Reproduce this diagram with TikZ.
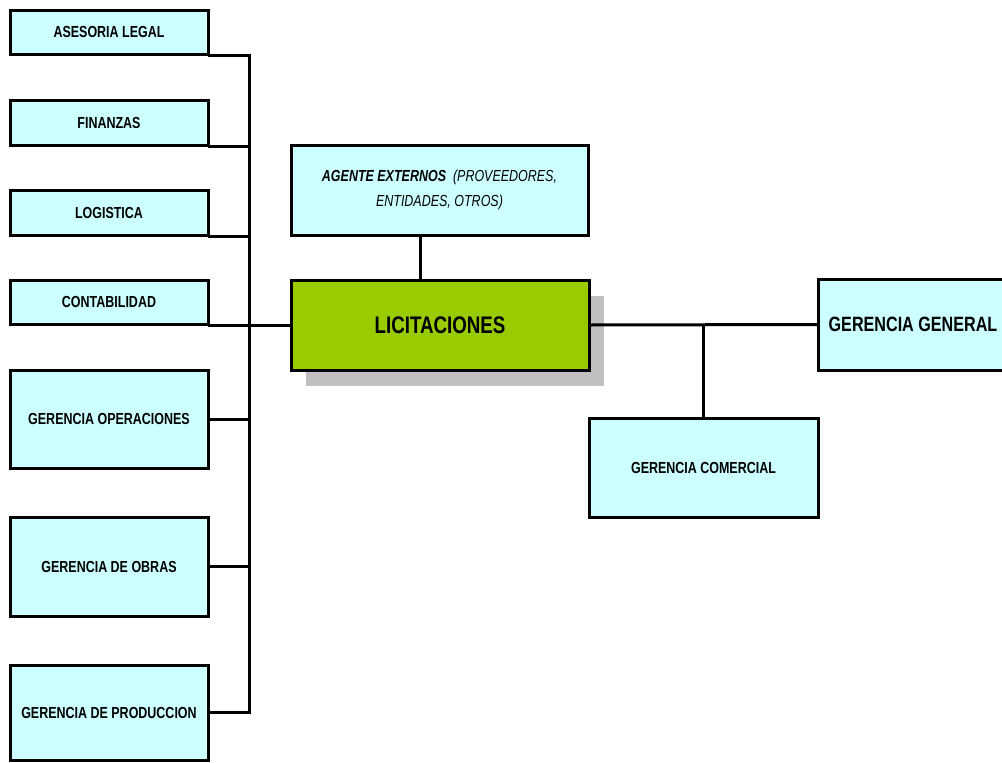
\documentclass[tikz,border=0pt]{standalone}
\usepackage{fontspec}
\setmainfont{Liberation Sans}[FakeStretch=0.78]
\usetikzlibrary{shadows}
\definecolor{boxcyan}{HTML}{CCFFFF}
\definecolor{boxgreen}{HTML}{99CC00}
\definecolor{shadowgray}{HTML}{C0C0C0}
\tikzset{
  unit/.style={draw=black, line width=3pt, fill=boxcyan, inner sep=0pt,
    align=center, font=\fontsize{16}{19}\selectfont\bfseries},
  leftunit/.style={unit, minimum width=198pt},
  wire/.style={line width=3pt, line cap=rect},
}
\begin{document}
\begin{tikzpicture}[x=1pt, y=-1pt]
  \useasboundingbox (0,0) rectangle (1002,763);
  \clip (0,0) rectangle (1002,763);

  % departments on the left
  \node[leftunit, minimum height=44pt] (asesoria) at (109,32) {ASESORIA LEGAL};
  \node[leftunit, minimum height=45pt] (finanzas) at (109,122.5) {FINANZAS};
  \node[leftunit, minimum height=45pt] (logistica) at (109,212.5) {LOGISTICA};
  \node[leftunit, minimum height=44pt] (contab) at (109,302) {CONTABILIDAD};
  \node[leftunit, minimum height=98pt] (operaciones) at (109,419) {GERENCIA OPERACIONES};
  \node[leftunit, minimum height=99pt] (obras) at (109,566.5) {GERENCIA DE OBRAS};
  \node[leftunit, minimum height=95pt] (produccion) at (109,712.5) {GERENCIA DE PRODUCCION};

  % external agents
  \node[unit, minimum width=297pt, minimum height=90pt,
        font=\fontsize{16}{25}\selectfont\itshape] (agente) at (439.5,190)
    {{\bfseries AGENTE EXTERNOS}\ \ (PROVEEDORES,\\ENTIDADES, OTROS)};

  % central unit
  \node[unit, fill=boxgreen, minimum width=298pt, minimum height=90pt,
        font=\fontsize{24}{28}\selectfont\bfseries,
        drop shadow={shadow xshift=15pt, shadow yshift=-16pt,
                     fill=shadowgray, opacity=1}] (licit) at (440,325) {LICITACIONES};

  % right-hand side
  \node[unit, minimum width=190pt, minimum height=91pt,
        font=\fontsize{20.7}{24}\selectfont\bfseries] (general) at (913,324.5) {GERENCIA GENERAL};
  \node[unit, minimum width=229pt, minimum height=99pt] (comercial) at (703.5,467.5) {GERENCIA COMERCIAL};

  % vertical bus on the left
  \coordinate (bus) at (249,0);
  \draw[wire] (asesoria.south east) -| (bus |- produccion.east) -- (produccion.east);
  \draw[wire] (finanzas.south east) -- (finanzas.south east -| bus);
  \draw[wire] (logistica.south east) -- (logistica.south east -| bus);
  \draw[wire] (contab.south east) -- (contab.south east -| licit.west);
  \draw[wire] (operaciones.east) -- (operaciones.east -| bus);
  \draw[wire] (obras.east) -- (obras.east -| bus);

  % links of the central unit
  \draw[wire] ([xshift=-19.5pt]agente.south) -- ([xshift=-19.5pt]agente.south |- licit.north);
  \draw[wire] (licit.east) -- (general.west);
  \draw[wire] (licit.east -| comercial.north) -- (comercial.north);
\end{tikzpicture}
\end{document}
